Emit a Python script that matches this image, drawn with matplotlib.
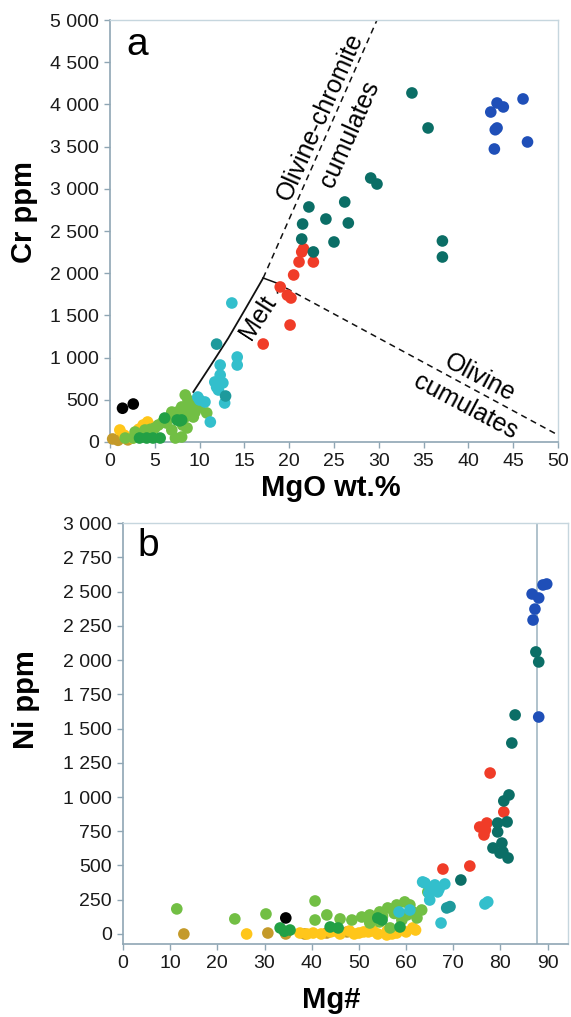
import matplotlib
matplotlib.use("Agg")
import matplotlib.pyplot as plt
from matplotlib.ticker import FuncFormatter, MultipleLocator

plt.rcParams['font.family'] = ['Liberation Sans', 'DejaVu Sans']

# colours of the sample groups
C_YELLOW = '#FFC61A'
C_OLIVE = '#C49A2A'
C_LGREEN = '#72BF44'
C_GREEN = '#22A045'
C_CYAN = '#33BFCC'
C_TEAL = '#1E9A9C'
C_DTEAL = '#0B6E66'
C_RED = '#F03C28'
C_BLUE = '#1F4FB8'
C_BLACK = '#000000'

# ---- panel a: MgO wt.% vs Cr ppm ----
a_black_x = [1.4, 2.6]
a_black_y = [400, 450]
a_olive_x = [0.3, 0.9, 2.0]
a_olive_y = [36, 20, 25]
a_yellow_x = [1.1, 4.2, 3.7, 2.5, 1.6, 3.2, 4.6]
a_yellow_y = [142, 237, 201, 47, 80, 150, 180]
a_lgreen_x = [1.7, 2.8, 3.9, 5.0, 5.9, 6.9, 7.5, 8.0, 8.4, 8.7, 9.1, 8.7, 8.4, 9.3, 8.1, 8.6,
              6.9, 7.3, 8.0, 10.8, 6.7, 5.4, 2.6, 9.5, 10.0, 7.8, 6.3, 4.5]
a_lgreen_y = [47, 118, 142, 166, 237, 355, 355, 415, 557, 498, 462, 379, 296, 296, 201, 166,
              142, 47, 59, 344, 296, 201, 47, 355, 415, 320, 225, 150]
a_green_x = [6.1, 7.5, 8.0, 3.3, 4.1, 4.8, 5.6, 7.8]
a_green_y = [284, 261, 261, 47, 47, 47, 47, 250]
a_cyan_x = [13.6, 14.2, 14.2, 12.3, 12.3, 11.7, 12.1, 12.8, 10.0, 10.6, 9.8, 11.2, 12.6, 11.9]
a_cyan_y = [1647, 1007, 912, 912, 794, 711, 616, 462, 498, 474, 533, 237, 700, 650]
a_teal_x = [11.9, 12.9]
a_teal_y = [1160, 545]
a_dteal_x = [33.7, 35.5, 29.1, 29.8, 22.2, 26.2, 24.1, 26.6, 21.5, 21.4, 25.0, 22.7, 37.1, 37.1]
a_dteal_y = [4136, 3721, 3128, 3057, 2785, 2844, 2642, 2595, 2583, 2405, 2370, 2252, 2382, 2192]
a_red_x = [21.4, 21.1, 22.7, 20.5, 20.2, 20.1, 19.0, 19.8, 17.1, 21.6]
a_red_y = [2252, 2133, 2133, 1979, 1706, 1386, 1837, 1740, 1161, 2290]
a_blue_x = [42.5, 43.2, 43.9, 46.1, 43.2, 42.9, 46.6, 43.0]
a_blue_y = [3910, 4017, 3970, 4065, 3721, 3472, 3555, 3700]

# melt trend and cumulate lines
melt_x = [9.3, 11.2, 13.2, 15.1, 17.1]
melt_y = [593, 900, 1230, 1575, 1943]
olchr_x = [17.1, 29.8]
olchr_y = [1943, 5000]
ol_x = [18.6, 50.0]
ol_y = [1884, 83]
tie_x = [17.1, 18.6]
tie_y = [1943, 1884]
tick_x = [18.6, 18.7]
tick_y = [1884, 1766]

# ---- panel b: Mg# vs Ni ppm ----
b_olive_x = [12.9, 30.7, 34.5, 43.2, 47.5, 38.5]
b_olive_y = [0, 7, 0, 7, 15, 0]
b_yellow_x = [26.2, 37.5, 40.3, 42.0, 44.0, 46.0, 48.0, 50.0, 52.0, 54.0, 56.0, 58.0, 60.0,
              62.0, 55.9, 61.4, 39.0, 49.0, 51.0, 53.0, 45.0, 57.0]
b_yellow_y = [0, 7, 7, 0, 15, 0, 22, 7, 15, 0, 22, 7, 15, 29, -7, 44, 0, 0, 15, 22, 22, 0]
b_lgreen_x = [11.4, 23.7, 30.3, 40.7, 40.7, 43.2, 46.0, 48.5, 50.6, 52.3, 54.4, 56.1, 58.0,
              59.7, 60.8, 63.3, 62.3, 56.6, 52.3, 54.4, 59.1, 60.2, 64.6, 57.5, 55.0, 61.5]
b_lgreen_y = [183, 110, 146, 241, 102, 139, 110, 102, 124, 139, 161, 190, 212,
              234, 212, 175, 117, 44, 80, 88, 102, 139, 307, 150, 130, 160]
b_green_x = [33.3, 35.4, 43.9, 45.6, 54.0, 54.9, 58.7, 34.2]
b_green_y = [44, 29, 51, 44, 117, 102, 51, 20]
b_black_x = [34.5]
b_black_y = [117]
b_cyan_x = [64.0, 66.1, 68.2, 64.8, 66.7, 65.0, 77.3, 76.7, 67.4, 58.5, 60.8, 65.5, 67.0, 63.5]
b_cyan_y = [372, 358, 365, 299, 307, 248, 234, 219, 80, 161, 175, 340, 330, 380]
b_teal_x = [68.6, 69.3]
b_teal_y = [190, 200]
b_dteal_x = [87.5, 88.1, 83.1, 82.4, 81.8, 80.7, 81.4, 79.4, 79.4, 80.3, 78.4, 79.9, 81.6, 71.6, 80.5]
b_dteal_y = [2059, 1986, 1599, 1394, 1015, 971, 818, 810, 745, 664, 628, 591, 555, 394, 600]
b_red_x = [77.8, 80.7, 77.1, 75.6, 76.5, 73.5, 67.8, 76.8]
b_red_y = [1175, 891, 810, 781, 723, 496, 474, 760]
b_blue_x = [89.0, 89.8, 86.7, 88.1, 87.3, 86.9, 88.1]
b_blue_y = [2548, 2555, 2482, 2453, 2372, 2292, 1584]
b_vline = 87.7

SPINE = '#8FA6B4'
FRAME = '#C6D6DE'
DOT = 70


def space_thousands(v, pos):
    return f"{int(round(v)):,}".replace(",", " ")


def style_axes(ax):
    for side in ('left', 'bottom'):
        ax.spines[side].set_color(SPINE)
        ax.spines[side].set_linewidth(1.2)
    for side in ('top', 'right'):
        ax.spines[side].set_color(FRAME)
        ax.spines[side].set_linewidth(1.0)
    ax.tick_params(direction='out', length=4, width=1, color=SPINE,
                   labelsize=14, labelcolor='#1a1a1a', pad=4)
    ax.yaxis.set_major_formatter(FuncFormatter(space_thousands))


def place_labels(ax, xpos, ypos):
    ax.xaxis.set_label_coords(*xpos)
    ax.yaxis.set_label_coords(*ypos)
    ax.xaxis.label.set_verticalalignment('center')
    ax.yaxis.label.set_verticalalignment('center')


fig = plt.figure(figsize=(5.71, 10.17), dpi=100)

# panel a
ax1 = fig.add_axes([0.1926, 0.5654, 0.7846, 0.4149])
groups_a = [
    (a_olive_x, a_olive_y, C_OLIVE), (a_yellow_x, a_yellow_y, C_YELLOW),
    (a_lgreen_x, a_lgreen_y, C_LGREEN), (a_green_x, a_green_y, C_GREEN),
    (a_cyan_x, a_cyan_y, C_CYAN), (a_teal_x, a_teal_y, C_TEAL),
    (a_red_x, a_red_y, C_RED), (a_dteal_x, a_dteal_y, C_DTEAL),
    (a_blue_x, a_blue_y, C_BLUE), (a_black_x, a_black_y, C_BLACK),
]
for gx, gy, col in groups_a:
    ax1.scatter(gx, gy, s=DOT, color=col, edgecolors='none', zorder=3, clip_on=False)

ax1.plot(melt_x, melt_y, color='#111111', lw=1.3, zorder=2)
ax1.plot(olchr_x, olchr_y, color='#111111', lw=1.1, ls=(0, (4, 3)), zorder=2)
ax1.plot(ol_x, ol_y, color='#111111', lw=1.1, ls=(0, (4, 3)), zorder=2)
ax1.plot(tie_x, tie_y, color='#111111', lw=1.1, zorder=2)
ax1.plot(tick_x, tick_y, color='#111111', lw=1.1, zorder=2)

ax1.text(23.5, 3851, 'Olivine-chromite', rotation=66, fontsize=18,
         ha='center', va='center', rotation_mode='anchor')
ax1.text(26.8, 3650, 'cumulates', rotation=66, fontsize=18,
         ha='center', va='center', rotation_mode='anchor')
ax1.text(16.5, 1480, 'Melt', rotation=57, fontsize=18,
         ha='center', va='center', rotation_mode='anchor')
ax1.text(41.3, 758, 'Olivine', rotation=-28, fontsize=18,
         ha='center', va='center', rotation_mode='anchor')
ax1.text(39.7, 420, 'cumulates', rotation=-28, fontsize=18,
         ha='center', va='center', rotation_mode='anchor')
ax1.text(0.06, 0.94, 'a', transform=ax1.transAxes, fontsize=28,
         ha='center', va='center')

ax1.set_xlim(0, 50)
ax1.set_ylim(0, 5000)
ax1.xaxis.set_major_locator(MultipleLocator(5))
ax1.yaxis.set_major_locator(MultipleLocator(500))
style_axes(ax1)
ax1.set_xlabel('MgO wt.%', fontsize=21, fontweight='bold')
ax1.set_ylabel('Cr ppm', fontsize=21, fontweight='bold')
place_labels(ax1, (0.493, -0.109), (-0.192, 0.545))

# panel b
ax2 = fig.add_axes([0.2154, 0.0718, 0.7793, 0.4139])
ax2.axvline(b_vline, color='#A9BDC8', lw=1.3, zorder=1)
groups_b = [
    (b_olive_x, b_olive_y, C_OLIVE), (b_yellow_x, b_yellow_y, C_YELLOW),
    (b_lgreen_x, b_lgreen_y, C_LGREEN), (b_green_x, b_green_y, C_GREEN),
    (b_cyan_x, b_cyan_y, C_CYAN), (b_teal_x, b_teal_y, C_TEAL),
    (b_red_x, b_red_y, C_RED), (b_dteal_x, b_dteal_y, C_DTEAL),
    (b_blue_x, b_blue_y, C_BLUE), (b_black_x, b_black_y, C_BLACK),
]
for gx, gy, col in groups_b:
    ax2.scatter(gx, gy, s=DOT, color=col, edgecolors='none', zorder=3)

ax2.text(0.057, 0.945, 'b', transform=ax2.transAxes, fontsize=28,
         ha='center', va='center')
ax2.set_xlim(0, 94.3)
ax2.set_ylim(-73, 3000)
ax2.xaxis.set_major_locator(MultipleLocator(10))
ax2.set_yticks(range(0, 3001, 250))
style_axes(ax2)
ax2.set_xlabel('Mg#', fontsize=21, fontweight='bold')
ax2.set_ylabel('Ni ppm', fontsize=21, fontweight='bold')
place_labels(ax2, (0.467, -0.133), (-0.218, 0.58))

fig.savefig('out.png', dpi=100)
